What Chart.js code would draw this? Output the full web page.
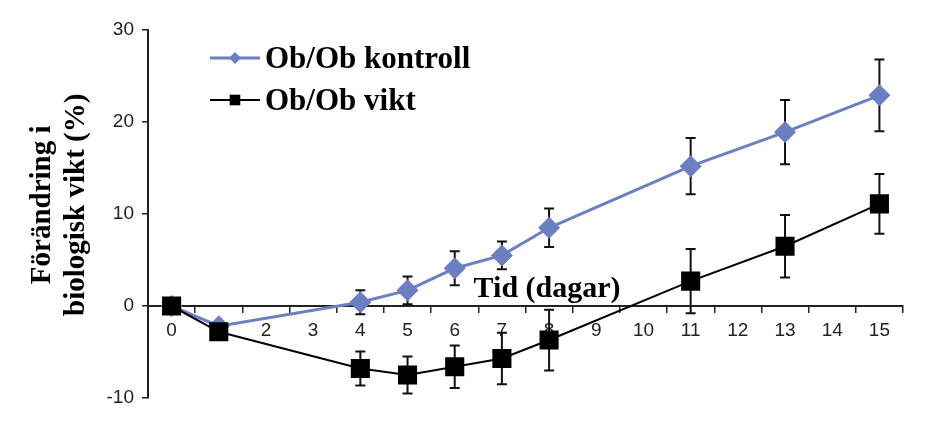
<!DOCTYPE html>
<html>
<head>
<meta charset="utf-8">
<script src="https://cdn.jsdelivr.net/npm/chart.js@4.4.1/dist/chart.umd.min.js"></script>
<style>
html,body{margin:0;padding:0;background:#fff;overflow:hidden;}
#wrap{width:945px;height:437px;}
</style>
</head>
<body>
<div id="wrap"><canvas id="c" width="945" height="437"></canvas></div>
<script>
// ---- data ----
const days = ['0','1','2','3','4','5','6','7','8','9','10','11','12','13','14','15'];
const kontroll    = [0, -2.2, null, null, 0.4, 1.7, 4.1, 5.5, 8.5, null, null, 15.2, null, 18.9, null, 22.9];
const kontrollErr = [0.3, 0.3, null, null, 1.3, 1.5, 1.85, 1.5, 2.1, null, null, 3.05, null, 3.5, null, 3.9];
const vikt        = [0, -2.8, null, null, -6.8, -7.5, -6.6, -5.7, -3.7, null, null, 2.7, null, 6.5, null, 11.1];
const viktErr     = [0.5, 0.3, null, null, 1.85, 2.0, 2.3, 2.8, 3.3, null, null, 3.5, null, 3.4, null, 3.25];
const yTicks = [-10, 0, 10, 20, 30];
const seriesNames = ['Ob/Ob kontroll', 'Ob/Ob vikt'];
const xTitle = 'Tid (dagar)';
const yTitle = ['Förändring i', 'biologisk vikt (%)'];

const BLUE = '#6B7FC2';
const SERIF = '"Liberation Serif", "DejaVu Serif", serif';
const SANS = '"Liberation Sans", Arial, sans-serif';

const errorBars = {
  id: 'errorBars',
  beforeDatasetsDraw(chart) {
    const ctx = chart.ctx;
    const ys = chart.scales.y;
    chart.data.datasets.forEach((ds, di) => {
      const meta = chart.getDatasetMeta(di);
      ds.errors.forEach((e, i) => {
        const v = ds.data[i];
        if (v === null || e === null) return;
        const x = meta.data[i].x;
        const yT = ys.getPixelForValue(v + e);
        const yB = ys.getPixelForValue(v - e);
        ctx.save();
        ctx.strokeStyle = '#111';
        ctx.lineWidth = 2;
        ctx.beginPath();
        ctx.moveTo(x, yT); ctx.lineTo(x, yB);
        ctx.moveTo(x - 5, yT); ctx.lineTo(x + 5, yT);
        ctx.moveTo(x - 5, yB); ctx.lineTo(x + 5, yB);
        ctx.stroke();
        ctx.restore();
      });
    });
  }
};

const annotations = {
  id: 'annotations',
  afterDraw(chart) {
    const ctx = chart.ctx;
    const a = chart.chartArea;
    const xs = chart.scales.x, ys = chart.scales.y;
    ctx.save();
    // y-axis title (two rotated lines)
    ctx.font = 'bold 29px ' + SERIF;
    ctx.fillStyle = '#000';
    ctx.textAlign = 'center';
    ctx.textBaseline = 'middle';
    const cy = ys.getPixelForValue(11);
    yTitle.forEach((t, k) => {
      ctx.save();
      ctx.translate(a.left - 105 + k * 34, cy);
      ctx.rotate(-Math.PI / 2);
      ctx.fillText(t, 0, 0);
      ctx.restore();
    });
    // x-axis title inside plot
    ctx.font = 'bold 30px ' + SERIF;
    ctx.textBaseline = 'alphabetic';
    ctx.fillText(xTitle, xs.getPixelForValue(8) - 2, ys.getPixelForValue(0) - 9);
    // legend
    ctx.font = 'bold 31px ' + SERIF;
    const lx = a.left + 62, ly = a.top + 28;
    const rows = [
      {color: BLUE, lw: 3, style: 'rectRot', r: 6},
      {color: '#000', lw: 2, style: 'rect', r: 7.5}
    ];
    rows.forEach((row, k) => {
      const y = ly + k * 42;
      ctx.strokeStyle = row.color;
      ctx.lineWidth = row.lw;
      ctx.beginPath(); ctx.moveTo(lx, y); ctx.lineTo(lx + 50, y); ctx.stroke();
      ctx.fillStyle = row.color;
      ctx.beginPath();
      if (row.style === 'rectRot') {
        ctx.moveTo(lx + 25 - row.r, y); ctx.lineTo(lx + 25, y - row.r);
        ctx.lineTo(lx + 25 + row.r, y); ctx.lineTo(lx + 25, y + row.r);
      } else {
        const s = row.r * Math.SQRT1_2;
        ctx.rect(lx + 25 - s, y - s, 2 * s, 2 * s);
      }
      ctx.closePath(); ctx.fill();
      ctx.fillStyle = '#000';
      ctx.textAlign = 'left';
      ctx.fillText(seriesNames[k], lx + 55, y + 10);
    });
    ctx.restore();
  }
};

new Chart(document.getElementById('c'), {
  type: 'line',
  data: {
    labels: days,
    datasets: [
      {
        label: seriesNames[0], data: kontroll, errors: kontrollErr, order: 1,
        borderColor: BLUE, backgroundColor: BLUE, borderWidth: 3,
        pointStyle: 'rectRot', pointRadius: 11, pointBorderWidth: 0,
        pointBackgroundColor: BLUE, spanGaps: true, tension: 0
      },
      {
        label: seriesNames[1], data: vikt, errors: viktErr, order: 0,
        borderColor: '#000', backgroundColor: '#000', borderWidth: 2,
        pointStyle: 'rect', pointRadius: 13.5, pointBorderWidth: 0,
        pointBackgroundColor: '#000', spanGaps: true, tension: 0
      }
    ]
  },
  options: {
    responsive: false,
    animation: false,
    devicePixelRatio: 1,
    layout: {padding: {left: 0, right: 42, top: 30, bottom: 39}},
    plugins: {legend: {display: false}, tooltip: {enabled: false}},
    scales: {
      x: {
        type: 'category',
        position: {y: 0},
        offset: true,
        grid: {offset: true, drawOnChartArea: false, drawTicks: true, tickLength: 6, color: '#222', lineWidth: 1.5},
        border: {display: true, color: '#222', width: 2},
        ticks: {color: '#222', font: {family: SANS, size: 19}, padding: 7, autoSkip: false, maxRotation: 0}
      },
      y: {
        min: -10, max: 30,
        afterBuildTicks(scale) { scale.ticks = yTicks.map(v => ({value: v})); },
        afterFit(scale) { scale.width = 148; },
        grid: {drawOnChartArea: false, drawTicks: true, tickLength: 6, color: '#222', lineWidth: 1.5},
        border: {display: true, color: '#222', width: 2},
        ticks: {color: '#222', font: {family: SANS, size: 19}, padding: 8},
        title: {display: false}
      }
    }
  },
  plugins: [errorBars, annotations]
});
</script>
</body>
</html>
